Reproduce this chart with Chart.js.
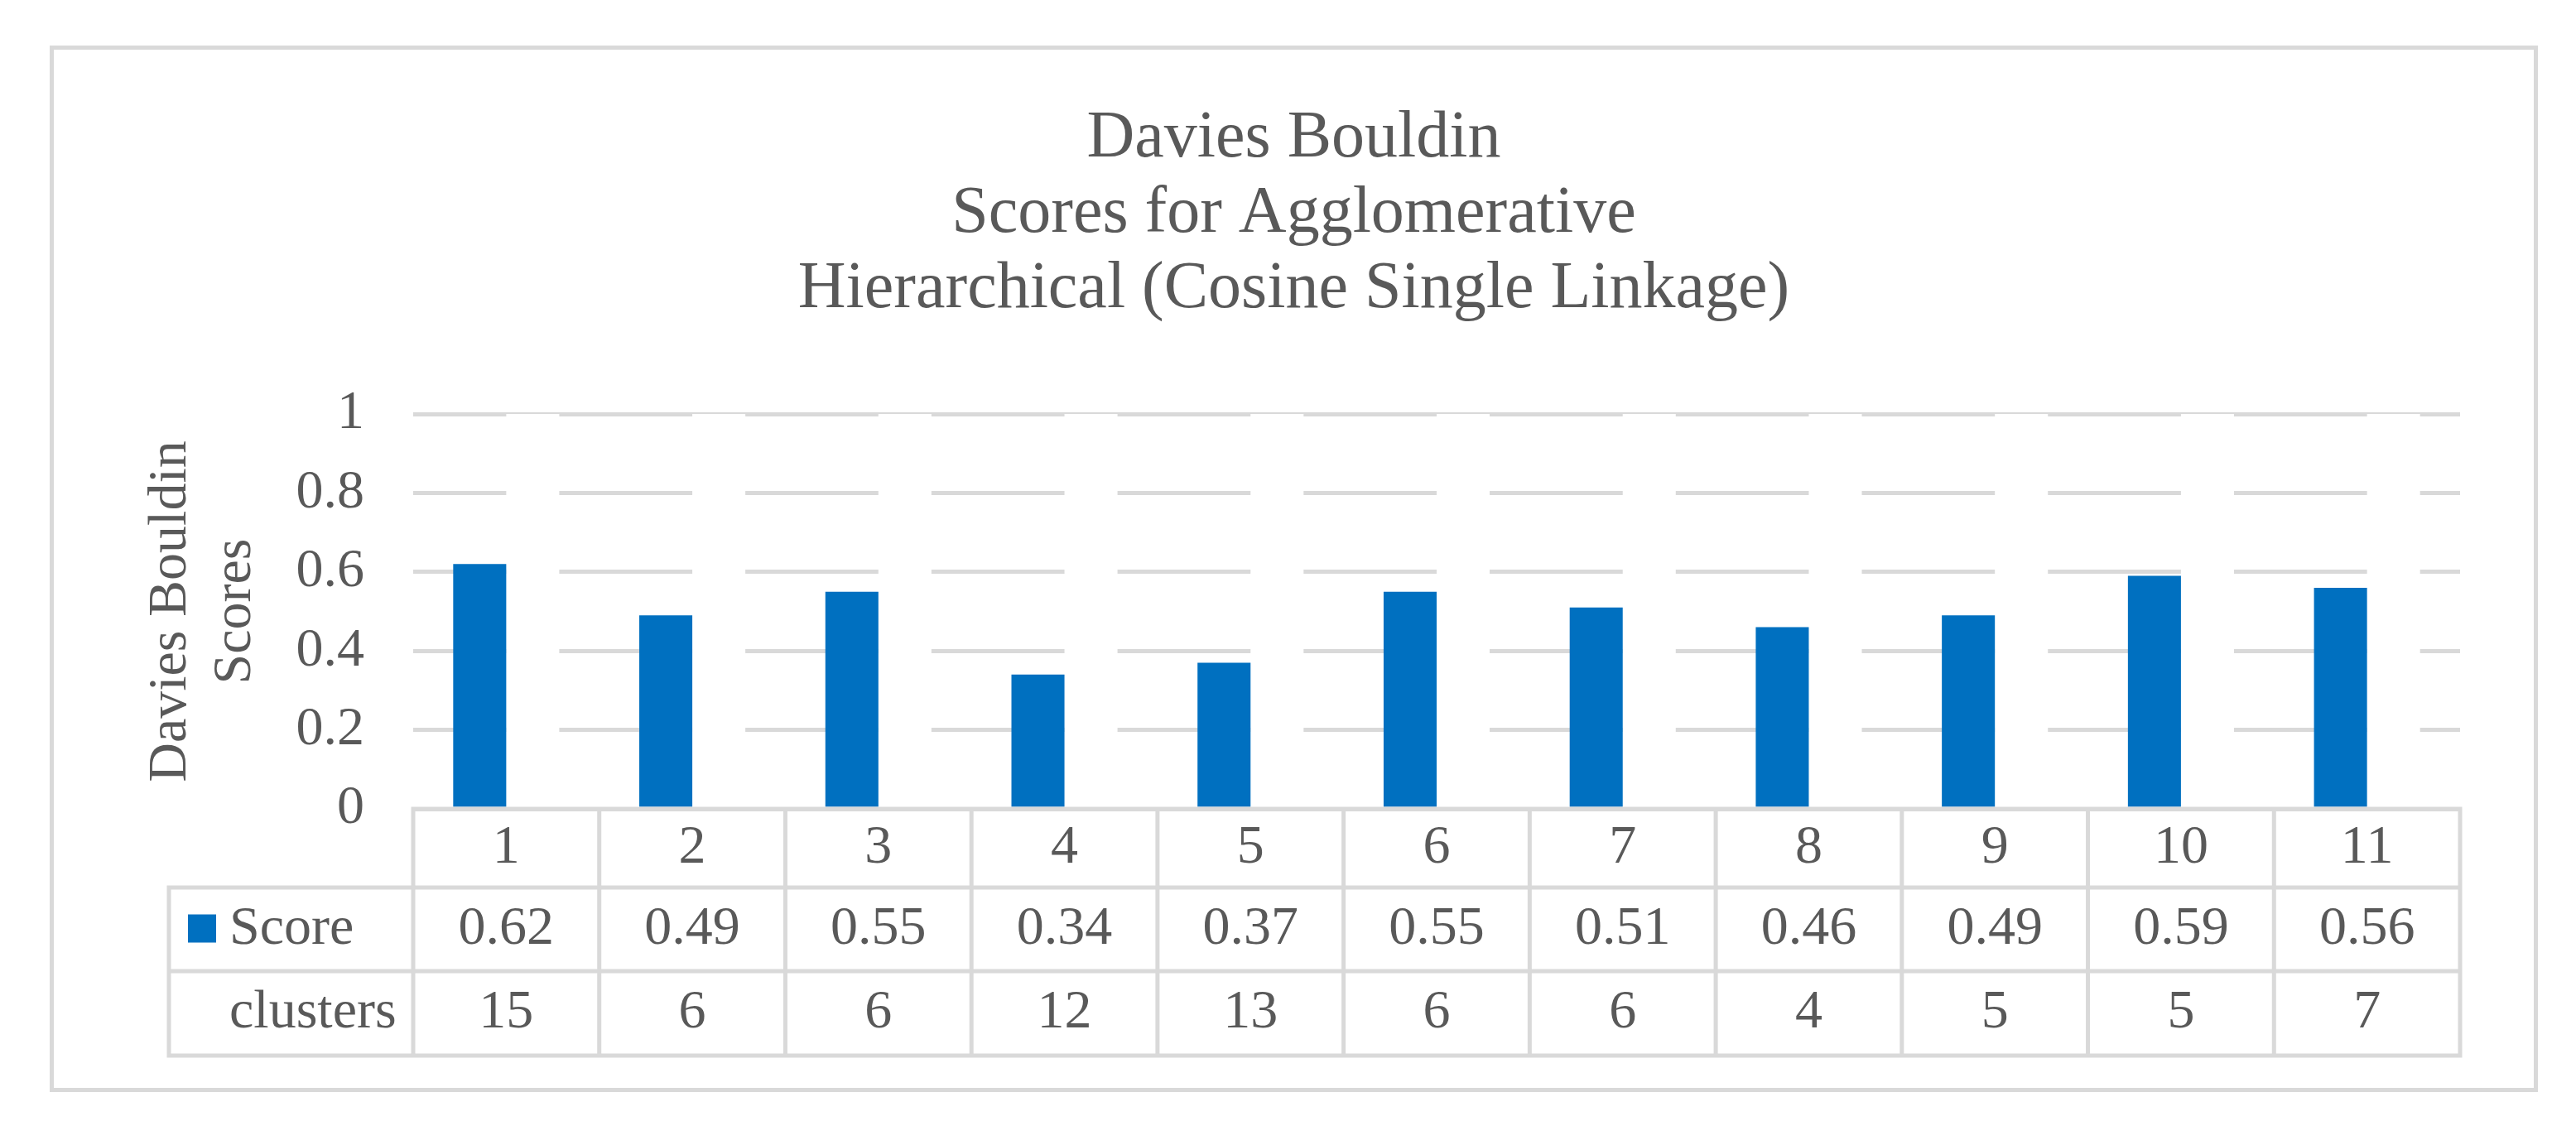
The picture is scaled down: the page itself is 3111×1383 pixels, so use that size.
<!DOCTYPE html>
<html lang="en">
<head>
<meta charset="UTF-8">
<title>Davies Bouldin Scores</title>
<script src="https://cdn.jsdelivr.net/npm/chart.js@4.4.0/dist/chart.umd.min.js"></script>
<style>
    body {
        margin: 0;
        background: #fff;
    }
    #frame {
        position: absolute;
        left: 60px;
        top: 55px;
        width: 2995px;
        height: 1254px;
        border: 5px solid #d9d9d9;
        background: #fff;
    }
</style>
</head>
<body>
<div id="frame"><canvas id="chart"></canvas></div>
<script>
    const categories = ['1', '2', '3', '4', '5', '6', '7', '8', '9', '10', '11'];
    const scores = [0.62, 0.49, 0.55, 0.34, 0.37, 0.55, 0.51, 0.46, 0.49, 0.59, 0.56];
    const clusters = [15, 6, 6, 12, 13, 6, 6, 4, 5, 5, 7];
    const yTickValues = [0, 0.2, 0.4, 0.6, 0.8, 1];

    const textColor = '#595959';
    const lineColor = '#d9d9d9';
    const barColor = '#0070C0';
    const fontFamily = "'Liberation Serif', 'Times New Roman', serif";
    const rowHeights = [95, 101, 102];
    const legendLeft = 139;

    Chart.defaults.font.family = fontFamily;
    Chart.defaults.color = textColor;

    // data table under the plot, laid out from the x scale
    const dataTable = {
        id: 'dataTable',
        afterDatasetsDraw(chart) {
            const { ctx, chartArea } = chart;
            const x = chart.scales.x;
            const half = (x.getPixelForValue(1) - x.getPixelForValue(0)) / 2;
            const top = chartArea.bottom;
            const y1 = top + rowHeights[0];
            const y2 = y1 + rowHeights[1];
            const y3 = y2 + rowHeights[2];

            ctx.save();
            ctx.strokeStyle = lineColor;
            ctx.lineWidth = 5;
            ctx.lineCap = 'square';
            ctx.beginPath();
            ctx.moveTo(chartArea.left, top);
            ctx.lineTo(chartArea.right, top);
            [y1, y2, y3].forEach(y => {
                ctx.moveTo(legendLeft, y);
                ctx.lineTo(chartArea.right, y);
            });
            ctx.moveTo(legendLeft, y1);
            ctx.lineTo(legendLeft, y3);
            for (let i = 0; i <= categories.length; i++) {
                const px = i < categories.length ? x.getPixelForValue(i) - half : x.getPixelForValue(i - 1) + half;
                ctx.moveTo(px, top);
                ctx.lineTo(px, y3);
            }
            ctx.stroke();

            ctx.font = '66px ' + fontFamily;
            ctx.fillStyle = textColor;
            ctx.textBaseline = 'middle';
            ctx.textAlign = 'center';
            const m0 = (top + y1) / 2, m1 = (y1 + y2) / 2, m2 = (y2 + y3) / 2;
            categories.forEach((c, i) => {
                const px = x.getPixelForValue(i);
                ctx.fillText(c, px, m0);
                ctx.fillText(String(scores[i]), px, m1);
                ctx.fillText(String(clusters[i]), px, m2);
            });

            ctx.textAlign = 'left';
            ctx.fillText(chart.data.datasets[0].label, legendLeft + 73, m1);
            ctx.fillText(chart.data.datasets[1].label, legendLeft + 73, m2);
            ctx.fillStyle = barColor;
            ctx.fillRect(legendLeft + 23, m1 - 18, 34, 34);
            ctx.restore();
        }
    };

    new Chart(document.getElementById('chart'), {
        type: 'bar',
        data: {
            labels: categories,
            datasets: [
                {
                    label: 'Score',
                    data: scores,
                    backgroundColor: barColor,
                    categoryPercentage: 0.57,
                    barPercentage: 1
                },
                {
                    // hidden white series, it only blanks out the gridlines
                    label: 'clusters',
                    data: clusters,
                    backgroundColor: '#ffffff',
                    categoryPercentage: 0.57,
                    barPercentage: 1
                }
            ]
        },
        options: {
            responsive: true,
            maintainAspectRatio: false,
            animation: false,
            layout: {
                padding: { left: 89, right: 89, top: 0, bottom: 337 }
            },
            plugins: {
                legend: { display: false },
                tooltip: { enabled: false },
                title: {
                    display: true,
                    text: ['Davies Bouldin', 'Scores for Agglomerative', 'Hierarchical (Cosine Single Linkage)'],
                    color: textColor,
                    font: { size: 80, weight: 'normal', lineHeight: 1.1375 },
                    padding: { top: 62, bottom: 105 }
                }
            },
            scales: {
                x: {
                    display: false
                },
                y: {
                    min: 0,
                    max: 1,
                    afterBuildTicks: scale => {
                        scale.ticks = yTickValues.map(v => ({ value: v }));
                    },
                    afterFit: scale => {
                        scale.width = 345;
                    },
                    grid: {
                        color: lineColor,
                        lineWidth: 5,
                        drawTicks: false
                    },
                    border: { display: false },
                    ticks: {
                        padding: 59,
                        color: textColor,
                        font: { size: 66 },
                        callback: value => String(value)
                    },
                    title: {
                        display: true,
                        text: ['Davies Bouldin', 'Scores'],
                        color: textColor,
                        font: { size: 66, lineHeight: 1.18 },
                        padding: { top: 14, bottom: 0 }
                    }
                }
            }
        },
        plugins: [dataTable]
    });
</script>
</body>
</html>
